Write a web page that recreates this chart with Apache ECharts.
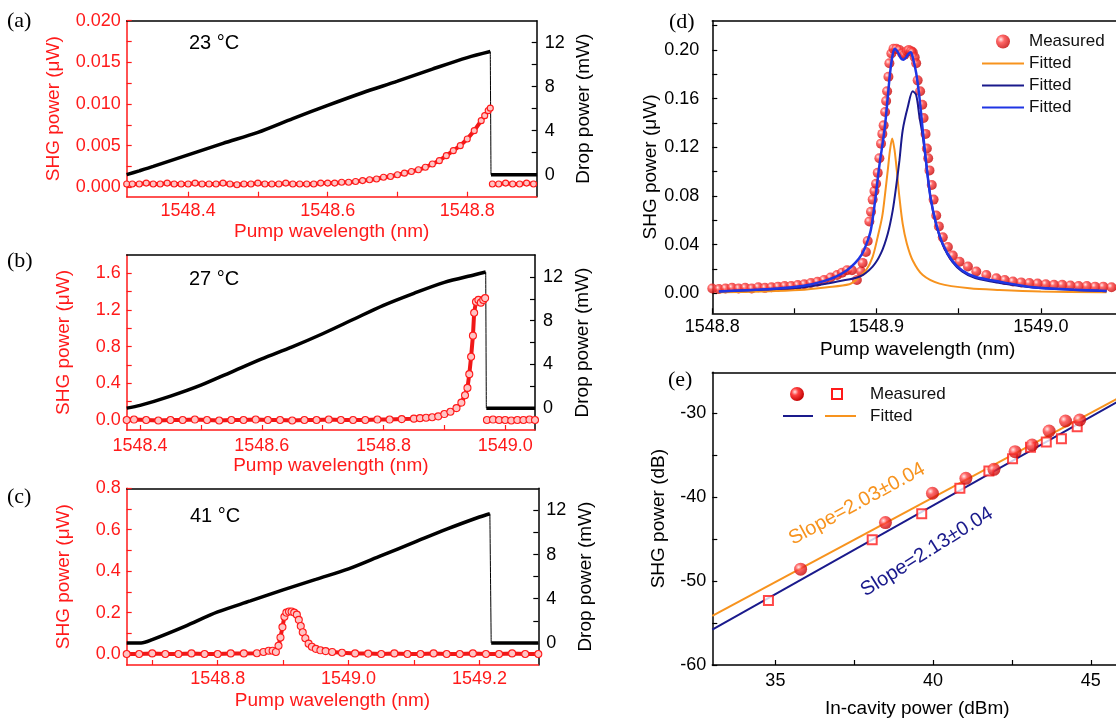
<!DOCTYPE html>
<html><head><meta charset="utf-8">
<script src="https://cdn.jsdelivr.net/npm/echarts@6/dist/echarts.min.js"></script>
<style>html,body{margin:0;padding:0;background:#fff}#c{width:1116px;height:723px}</style>
</head><body><div id="c"></div>
<script>
// ---------- Panel (a) 23 °C ----------
const aShgX = [1548.312,1548.32,1548.33,1548.34,1548.35,1548.36,1548.37,1548.38,1548.39,1548.40,
  1548.41,1548.42,1548.43,1548.44,1548.45,1548.46,1548.47,1548.48,1548.49,1548.50,
  1548.51,1548.52,1548.53,1548.54,1548.55,1548.56,1548.57,1548.58,1548.59,1548.60,
  1548.61,1548.62,1548.63,1548.64,1548.65,1548.66,1548.67,1548.68,1548.69,1548.70,
  1548.71,1548.72,1548.73,1548.74,1548.75,1548.76,1548.77,1548.78,1548.79,1548.80,
  1548.81,1548.82,1548.825,1548.83,1548.833];
const aShgY = [0.0004,0.0004,0.0004,0.0005,0.0004,0.0004,0.0005,0.0004,0.0004,0.0004,
  0.0005,0.0004,0.0004,0.0004,0.0005,0.0004,0.0003,0.0004,0.0004,0.0005,
  0.0004,0.0004,0.0004,0.0005,0.0004,0.0004,0.0004,0.0004,0.0005,0.0005,
  0.0005,0.0006,0.0006,0.0007,0.0008,0.0009,0.0010,0.0012,0.0013,0.0015,
  0.0017,0.0019,0.0021,0.0024,0.0028,0.0032,0.0038,0.0044,0.0050,0.0058,
  0.0068,0.0080,0.0086,0.0092,0.0095];
const aShgAfterX = [1548.836,1548.845,1548.855,1548.865,1548.875,1548.885,1548.895,1548.9];
const aShgAfterY = [0.0004,0.0004,0.0005,0.0004,0.0004,0.0005,0.0004,0.0004];
const aDropX = [1548.312,1548.33,1548.35,1548.40,1548.45,1548.50,1548.55,1548.60,1548.65,1548.70,1548.75,1548.80,1548.833];
const aDropY = [0.0,0.35,0.75,1.8,2.85,3.85,5.1,6.3,7.45,8.5,9.6,10.65,11.2];
const aDropAfterX = [1548.834,1548.9];
const aDropAfterY = [0,0];
const aXLabels = [1548.4,1548.6,1548.8];
const aXTicks = [1548.4,1548.5,1548.6,1548.7,1548.8];
const aYLabels = [0,0.005,0.010,0.015,0.020];
const aYTicks = [0,0.0025,0.005,0.0075,0.01,0.0125,0.015,0.0175,0.02];

// ---------- Panel (b) 27 °C ----------
const bShgX = [1548.378,1548.39,1548.41,1548.43,1548.45,1548.47,1548.49,1548.51,1548.53,1548.55,
  1548.57,1548.59,1548.61,1548.63,1548.65,1548.67,1548.69,1548.71,1548.73,1548.75,
  1548.77,1548.79,1548.81,1548.83,1548.85,
  1548.86,1548.87,1548.88,1548.89,1548.90,1548.91,1548.92,
  1548.928,1548.934,1548.938,1548.941,1548.944,1548.947,1548.949,1548.952,1548.956,1548.960,1548.964,1548.967];
const bShgY = [0,0.005,0,-0.005,0,0,0.005,0,-0.005,0,
  0,0.005,0,0,-0.005,0,0,0.005,0,0,
  0,0.005,0.005,0.01,0.015,
  0.02,0.025,0.03,0.04,0.065,0.09,0.13,
  0.19,0.27,0.35,0.5,0.69,0.92,1.17,1.29,1.31,1.28,1.31,1.33];
const bShgAfterX = [1548.97,1548.98,1548.99,1549.0,1549.01,1549.02,1549.03,1549.04,1549.049];
const bShgAfterY = [0,0.005,0,0,-0.005,0,0,0.005,0];
const bDropX = [1548.378,1548.40,1548.45,1548.50,1548.55,1548.60,1548.65,1548.70,1548.75,1548.80,1548.85,1548.90,1548.95,1548.968];
const bDropY = [0.0,0.25,1.1,2.1,3.3,4.5,5.6,6.8,8.1,9.4,10.5,11.5,12.2,12.45];
const bDropAfterX = [1548.969,1549.049];
const bDropAfterY = [0,0];
const bXLabels = [1548.4,1548.6,1548.8,1549.0];
const bXTicks = [1548.4,1548.5,1548.6,1548.7,1548.8,1548.9,1549.0];
const bYLabels = [0,0.4,0.8,1.2,1.6];
const bYTicks = [0,0.2,0.4,0.6,0.8,1.0,1.2,1.4,1.6];

// ---------- Panel (c) 41 °C ----------
const cShgX = [1548.661,1548.68,1548.70,1548.72,1548.74,1548.76,1548.78,1548.80,1548.82,1548.84,1548.86,
  1548.87,1548.878,1548.884,1548.889,1548.893,1548.896,1548.899,1548.902,1548.905,1548.909,
  1548.913,1548.917,1548.921,1548.924,1548.927,1548.930,1548.934,1548.939,1548.944,1548.950,
  1548.957,1548.965,1548.975,1548.99,
  1549.01,1549.03,1549.05,1549.07,1549.09,1549.11,1549.13,1549.15,1549.17,1549.19,1549.21,1549.23,1549.25,1549.27,1549.29];
const cShgY = [0,0,0.003,0,0,0.003,0,0,0.003,0.003,0.004,
  0.01,0.016,0.016,0.01,0.04,0.08,0.13,0.18,0.2,0.205,
  0.205,0.2,0.19,0.165,0.135,0.105,0.076,0.05,0.035,0.025,
  0.018,0.014,0.01,0.006,
  0.003,0.002,0,0.003,0,0,0.003,0,0,0.003,0,0,0.003,0,0];
const cDropX = [1548.661,1548.683,1548.70,1548.75,1548.80,1548.85,1548.90,1548.95,1549.00,1549.05,1549.10,1549.15,1549.20,1549.216];
const cDropY = [0,0,0.3,1.5,2.8,3.8,4.8,5.75,6.7,7.9,9.1,10.3,11.4,11.7];
const cDropAfterX = [1549.218,1549.29];
const cDropAfterY = [0,0];
const cXLabels = [1548.8,1549.0,1549.2];
const cXTicks = [1548.7,1548.8,1548.9,1549.0,1549.1,1549.2];
const cYLabels = [0,0.2,0.4,0.6,0.8];
const cYTicks = [0,0.1,0.2,0.3,0.4,0.5,0.6,0.7,0.8];

const dropLabels = [0,4,8,12];
const dropTicks = [0,2,4,6,8,10,12];

// ---------- Panel (d) ----------
const dMeasX = [1548.800,1548.804,1548.808,1548.812,1548.816,1548.820,1548.824,1548.828,1548.832,1548.836,
  1548.840,1548.844,1548.848,1548.852,1548.856,1548.860,1548.864,1548.868,1548.872,1548.876,
  1548.879,1548.882,1548.885,1548.888,1548.8905,
  1548.8915,1548.8935,1548.8946,1548.8956,1548.8966,1548.8976,1548.8987,1548.8997,1548.9007,1548.9017,
  1548.9027,1548.9035,1548.9043,1548.9052,1548.9058,1548.9064,1548.9072,1548.9078,1548.9090,1548.9103,
  1548.9120,1548.9139,1548.9155,1548.9170,1548.9185,1548.9196,1548.9210,1548.9220,1548.9232,1548.9241,
  1548.9250,1548.9265,1548.9278,1548.9286,1548.9298,1548.9306,1548.9314,1548.9322,1548.9336,1548.9347,
  1548.9363,1548.9379,1548.9403,1548.9434,1548.9464,1548.9505,1548.9556,1548.9607,1548.9668,1548.9729,
  1548.978,1548.983,1548.988,1548.993,1548.998,1549.003,1549.008,1549.013,1549.018,1549.023,
  1549.028,1549.033,1549.038,1549.043,1549.048];
const dMeasY = [0.004,0.0035,0.004,0.0045,0.004,0.0045,0.004,0.005,0.0045,0.005,
  0.0055,0.006,0.006,0.0068,0.0075,0.0085,0.0095,0.011,0.013,0.015,
  0.017,0.019,0.019,0.011,0.018,
  0.025,0.034,0.043,0.059,0.067,0.077,0.084,0.090,0.099,0.111,
  0.123,0.131,0.138,0.149,0.158,0.166,0.178,0.189,0.197,0.201,
  0.201,0.200,0.197,0.196,0.199,0.200,0.199,0.198,0.194,0.189,
  0.175,0.166,0.155,0.144,0.131,0.119,0.111,0.101,0.089,0.077,
  0.064,0.055,0.046,0.038,0.031,0.026,0.022,0.018,0.015,0.0123,
  0.011,0.0098,0.009,0.0085,0.008,0.0075,0.007,0.007,0.0065,0.006,
  0.006,0.0055,0.0055,0.005,0.005];
const dFitOrangeX = [1548.804,1548.83,1548.853,1548.870,1548.8834,1548.8875,1548.8936,1548.8976,1548.9007,1548.9034,
  1548.9052,1548.9068,1548.9082,1548.9095,1548.9109,1548.9123,1548.9139,1548.9159,1548.9184,1548.922,
  1548.9281,1548.9383,1548.9566,1548.9749,1549.00,1549.04];
const dFitOrangeY = [0.0008,0.0015,0.0027,0.005,0.0075,0.011,0.019,0.030,0.0465,0.063,
  0.082,0.101,0.118,0.1273,0.118,0.101,0.079,0.057,0.041,0.027,
  0.015,0.008,0.0041,0.0027,0.0015,0.0008];
const dFitNavyX = [1548.804,1548.83,1548.853,1548.87,1548.877,1548.8895,1548.8976,1548.9027,1548.9068,1548.9098,
  1548.9119,1548.9139,1548.9159,1548.919,1548.922,1548.9241,1548.9261,1548.9281,1548.9302,1548.9328,
  1548.9363,1548.9405,1548.946,1548.952,1548.96,1548.975,1548.995,1549.02,1549.04];
const dFitNavyY = [0.0015,0.003,0.0045,0.008,0.010,0.0136,0.022,0.033,0.049,0.068,
  0.0876,0.109,0.134,0.153,0.166,0.163,0.145,0.129,0.107,0.079,
  0.056,0.039,0.026,0.018,0.0125,0.0085,0.0048,0.0028,0.0018];
const dFitBlueX = [1548.804,1548.82,1548.84,1548.855,1548.865,1548.875,1548.882,1548.887,1548.891,1548.894,
  1548.8965,1548.899,1548.9017,1548.9048,1548.9068,1548.9082,1548.9098,1548.911,1548.913,1548.9149,
  1548.9164,1548.918,1548.9195,1548.9208,1548.922,1548.9241,1548.9261,1548.9281,1548.9302,1548.9328,
  1548.9363,1548.9405,1548.946,1548.952,1548.96,1548.975,1548.995,1549.02,1549.04];
const dFitBlueY = [0.0015,0.0025,0.004,0.006,0.009,0.0136,0.019,0.025,0.032,0.041,
  0.052,0.075,0.105,0.134,0.161,0.181,0.196,0.201,0.198,0.193,
  0.192,0.194,0.197,0.198,0.194,0.181,0.161,0.134,0.107,0.079,
  0.057,0.04,0.027,0.019,0.0136,0.0095,0.005,0.003,0.002];
const dXLabels = [1548.8,1548.9,1549.0];
const dXTicks = [1548.8,1548.85,1548.9,1548.95,1549.0];
const dYLabels = [0,0.04,0.08,0.12,0.16,0.20];
const dYTicks = [0,0.02,0.04,0.06,0.08,0.10,0.12,0.14,0.16,0.18,0.20,0.22];

// ---------- Panel (e) ----------
const eCircX = [35.80,38.49,39.98,41.04,41.93,42.60,43.14,43.68,44.20,44.65];
const eCircY = [-48.57,-43.02,-39.52,-37.74,-36.67,-34.56,-33.77,-32.10,-30.91,-30.79];
const eSqX = [34.78,38.07,39.64,40.85,41.77,42.52,43.09,43.59,44.07,44.57];
const eSqY = [-52.30,-45.08,-41.98,-38.93,-36.87,-35.40,-34.05,-33.41,-33.02,-31.59];
const eFitOrangeX = [33,46];
const eFitOrangeY = [-54.13,-27.92];
const eFitNavyX = [33,46];
const eFitNavyY = [-55.79,-28.30];
const eXLabels = [35,40,45];
const eXTicks = [35,37.5,40,42.5,45];
const eYLabels = [-60,-50,-40,-30];
const eYTicks = [-60,-55,-50,-45,-40,-35,-30];

// ---------- styling ----------
const RED = '#ff1a1a', ORANGE = '#f7931e', NAVY = '#1a1a8c', BLUE = '#1f35e4', BLK = '#000';
const FONT = 'Liberation Sans';
const zip = (xs, ys) => xs.map((x, i) => [x, ys[i]]);
const sphere = {type:'radial', x:0.35, y:0.35, r:0.7,
  colorStops:[{offset:0,color:'#ffe6e6'},{offset:0.35,color:'#ff4040'},{offset:1,color:'#c00000'}]};

function xAx(gi, min, max, labels, ticks, fmt, color, name, gap, margin) {
  return {type:'value', gridIndex:gi, min, max, position:'bottom',
    name, nameLocation:'middle', nameGap:gap, nameMoveOverlap:false,
    nameTextStyle:{color, fontSize:19, fontFamily:FONT},
    axisLine:{show:true, onZero:false, lineStyle:{color, width:1.5}},
    axisTick:{show:true, inside:true, length:5, customValues:ticks, lineStyle:{color, width:1.2}},
    axisLabel:{show:true, customValues:labels, formatter:fmt, color, fontSize:18, fontFamily:FONT, margin},
    splitLine:{show:false}};
}
function topAx(gi, min, max) {
  return {type:'value', gridIndex:gi, min, max, position:'top',
    axisLine:{show:true, onZero:false, lineStyle:{color:BLK, width:1.5}},
    axisTick:{show:false}, axisLabel:{show:false}, splitLine:{show:false}};
}
function yAx(gi, min, max, labels, ticks, fmt, color, pos, name, gap, margin) {
  return {type:'value', gridIndex:gi, min, max, position:pos,
    name, nameLocation:'middle', nameGap:gap, nameMoveOverlap:false,
    nameTextStyle:{color, fontSize:19, fontFamily:FONT},
    axisLine:{show:true, onZero:false, lineStyle:{color, width:1.5}},
    axisTick:{show:true, inside:true, length:5, customValues:ticks, lineStyle:{color, width:1.2}},
    axisLabel:{show:true, customValues:labels, formatter:fmt, color, fontSize:18, fontFamily:FONT, margin},
    splitLine:{show:false}};
}
const f1 = v => v.toFixed(1), f2 = v => v.toFixed(2), f3 = v => v.toFixed(3), f0 = v => String(v);

const grids = [
  {left:126.7, top:20.7, width:410, height:176, outerBoundsMode:'none'},
  {left:126.7, top:255, width:408.3, height:175, outerBoundsMode:'none'},
  {left:126.7, top:488.3, width:411.6, height:176.7, outerBoundsMode:'none'},
  {left:712.3, top:20.7, width:410.7, height:292.6, outerBoundsMode:'none'},
  {left:712.3, top:372.3, width:410, height:292.7, outerBoundsMode:'none'}
];
const PW = 'Pump wavelength (nm)', SHGU = 'SHG power (\u03bcW)', DROP = 'Drop power (mW)';
const xAxes = [
  xAx(0, 1548.312, 1548.8995, aXLabels, aXTicks, f1, RED, PW, 26, 5), topAx(0, 1548.312, 1548.8995),
  xAx(1, 1548.378, 1549.049, bXLabels, bXTicks, f1, RED, PW, 26, 7), topAx(1, 1548.378, 1549.049),
  xAx(2, 1548.661, 1549.29, cXLabels, cXTicks, f1, RED, PW, 26, 5), topAx(2, 1548.661, 1549.29),
  xAx(3, 1548.8, 1549.05, dXLabels, dXTicks, f1, BLK, PW, 27, 5), topAx(3, 1548.8, 1549.05),
  xAx(4, 33, 46, eXLabels, eXTicks, f0, BLK, 'In-cavity power (dBm)', 34, 7), topAx(4, 33, 46)
];
const yAxes = [
  yAx(0, -0.00113, 0.02, aYLabels, aYTicks, f3, RED, 'left', SHGU, 63, 6),
  yAx(0, -2, 14, dropLabels, dropTicks, f0, BLK, 'right', DROP, 38, 8),
  yAx(1, -0.109, 1.80, bYLabels, bYTicks, f1, RED, 'left', SHGU, 53, 6),
  yAx(1, -2, 14, dropLabels, dropTicks, f0, BLK, 'right', DROP, 38, 8),
  yAx(2, -0.053, 0.80, cYLabels, cYTicks, f1, RED, 'left', SHGU, 53, 6),
  yAx(2, -2, 14, dropLabels, dropTicks, f0, BLK, 'right', DROP, 38, 8),
  yAx(3, -0.0164, 0.224, dYLabels, dYTicks, f2, BLK, 'left', SHGU, 52, 13),
  yAx(4, -60, -25.1, eYLabels, eYTicks, f0, BLK, 'left', 'SHG power (dB)', 44, 6)
];

function shgSeries(xi, yi, data, size) {
  return {type:'line', xAxisIndex:xi, yAxisIndex:yi, data, symbol:'circle', symbolSize:size,
    showSymbol:true, showAllSymbol:true, lineStyle:{color:'#f01818', width:4},
    itemStyle:{color:'#ffc4c4', borderColor:RED, borderWidth:1.1}, z:4};
}
function dropSeries(xi, yi, data, w) {
  return {type:'line', xAxisIndex:xi, yAxisIndex:yi, data, symbol:'none', smooth:0.3,
    lineStyle:{color:BLK, width:w}, z:3};
}
const series = [];
const panels = [
  [0, aShgX, aShgY, aShgAfterX, aShgAfterY, aDropX, aDropY, aDropAfterX, aDropAfterY, 6],
  [1, bShgX, bShgY, bShgAfterX, bShgAfterY, bDropX, bDropY, bDropAfterX, bDropAfterY, 7],
];
panels.forEach(([k, sx, sy, sax, say, dx, dy, dax, day, sz]) => {
  const xi = 2 * k, yl = 2 * k, yr = 2 * k + 1;
  series.push(dropSeries(xi, yr, zip(dx, dy), 3.5));
  series.push(dropSeries(xi, yr, [[dx[dx.length-1], dy[dy.length-1]], [dax[0], day[0]]], 1));
  series.push(dropSeries(xi, yr, zip(dax, day), 3.5));
  series.push(shgSeries(xi, yl, zip(sx, sy), sz));
  series.push(shgSeries(xi, yl, zip(sax, say), sz));
});
// panel (c)
series.push(dropSeries(4, 5, zip(cDropX, cDropY), 3.5));
series.push(dropSeries(4, 5, [[cDropX[cDropX.length-1], cDropY[cDropY.length-1]], [cDropAfterX[0], cDropAfterY[0]]], 1));
series.push(dropSeries(4, 5, zip(cDropAfterX, cDropAfterY), 3.5));
series.push(shgSeries(4, 4, zip(cShgX, cShgY), 7));
// panel (d)
series.push({name:'Measured', type:'scatter', xAxisIndex:6, yAxisIndex:6, data:zip(dMeasX, dMeasY),
  symbol:'circle', symbolSize:10, itemStyle:{color:sphere}, z:2});
series.push({name:'Fitted', type:'line', xAxisIndex:6, yAxisIndex:6, data:zip(dFitOrangeX, dFitOrangeY),
  symbol:'none', smooth:0.3, lineStyle:{color:ORANGE, width:2}, itemStyle:{color:ORANGE}, z:3});
series.push({name:'Fitted ', type:'line', xAxisIndex:6, yAxisIndex:6, data:zip(dFitNavyX, dFitNavyY),
  symbol:'none', smooth:0.3, lineStyle:{color:NAVY, width:2}, itemStyle:{color:NAVY}, z:3});
series.push({name:'Fitted  ', type:'line', xAxisIndex:6, yAxisIndex:6, data:zip(dFitBlueX, dFitBlueY),
  symbol:'none', smooth:0.3, lineStyle:{color:BLUE, width:2.5}, itemStyle:{color:BLUE}, z:4});
// panel (e)
series.push({name:'fitO', type:'line', xAxisIndex:8, yAxisIndex:7, data:zip(eFitOrangeX, eFitOrangeY),
  symbol:'none', lineStyle:{color:ORANGE, width:2}, z:2});
series.push({name:'fitN', type:'line', xAxisIndex:8, yAxisIndex:7, data:zip(eFitNavyX, eFitNavyY),
  symbol:'none', lineStyle:{color:NAVY, width:2}, z:2});
series.push({name:'sq', type:'scatter', xAxisIndex:8, yAxisIndex:7, data:zip(eSqX, eSqY),
  symbol:'rect', symbolSize:9, itemStyle:{color:'#fff', borderColor:RED, borderWidth:2}, z:3});
series.push({name:'ci', type:'scatter', xAxisIndex:8, yAxisIndex:7, data:zip(eCircX, eCircY),
  symbol:'circle', symbolSize:13, itemStyle:{color:sphere}, z:4});

const txt = (x, y, text, size, family, color, extra) => Object.assign({type:'text', x, y, z:10,
  style:{text, fontSize:size, fontFamily:family, fill:color,
    align:'left', verticalAlign:'middle', textAlign:'left', textVerticalAlign:'middle'}}, extra || {});
const serif = 'Liberation Serif';
const grad = new echarts.graphic.RadialGradient(0.35, 0.35, 0.7,
  [{offset:0,color:'#ffe6e6'},{offset:0.35,color:'#ff4040'},{offset:1,color:'#c00000'}]);
const graphics = [
  txt(7, 21, '(a)', 22, serif, BLK), txt(7, 261, '(b)', 22, serif, BLK), txt(7, 497, '(c)', 22, serif, BLK),
  txt(669, 22, '(d)', 22, serif, BLK), txt(668, 380, '(e)', 22, serif, BLK),
  txt(189, 43, '23 \u00b0C', 20, FONT, BLK), txt(189, 279, '27 \u00b0C', 20, FONT, BLK), txt(190, 516, '41 \u00b0C', 20, FONT, BLK),
  {type:'circle', z:10, shape:{cx:797, cy:394, r:7}, style:{fill:grad}},
  {type:'rect', z:10, shape:{x:832, y:389, width:10, height:10}, style:{fill:'#fff', stroke:RED, lineWidth:2}},
  txt(870, 394, 'Measured', 17, FONT, '#111'),
  {type:'line', z:10, shape:{x1:783, y1:416, x2:813, y2:416}, style:{stroke:NAVY, lineWidth:2}},
  {type:'line', z:10, shape:{x1:825, y1:416, x2:856, y2:416}, style:{stroke:ORANGE, lineWidth:2}},
  txt(870, 416, 'Fitted', 17, FONT, '#111'),
  {type:'text', x:857, y:504, rotation:28.5*Math.PI/180, z:10,
    style:{text:'Slope=2.03\u00b10.04', fontSize:20, fontFamily:FONT, fill:ORANGE,
      align:'center', verticalAlign:'middle', textAlign:'center', textVerticalAlign:'middle'}},
  {type:'text', x:927, y:552, rotation:32*Math.PI/180, z:10,
    style:{text:'Slope=2.13\u00b10.04', fontSize:20, fontFamily:FONT, fill:NAVY,
      align:'center', verticalAlign:'middle', textAlign:'center', textVerticalAlign:'middle'}}
];

const chart = echarts.init(document.getElementById('c'), null, {renderer:'canvas'});
chart.setOption({
  animation:false, backgroundColor:'#fff',
  textStyle:{fontFamily:FONT},
  grid:grids, xAxis:xAxes, yAxis:yAxes, series,
  legend:[{data:['Measured',
      {name:'Fitted', itemStyle:{opacity:0}},
      {name:'Fitted ', itemStyle:{opacity:0}},
      {name:'Fitted  ', itemStyle:{opacity:0}}],
    orient:'vertical', left:981, top:33, padding:0,
    itemWidth:42, itemHeight:14, itemGap:5, selectedMode:false,
    formatter: n => n.trim(), textStyle:{fontSize:17, fontFamily:FONT, color:'#111'}}],
  graphic:{elements:graphics}
});
</script></body></html>
